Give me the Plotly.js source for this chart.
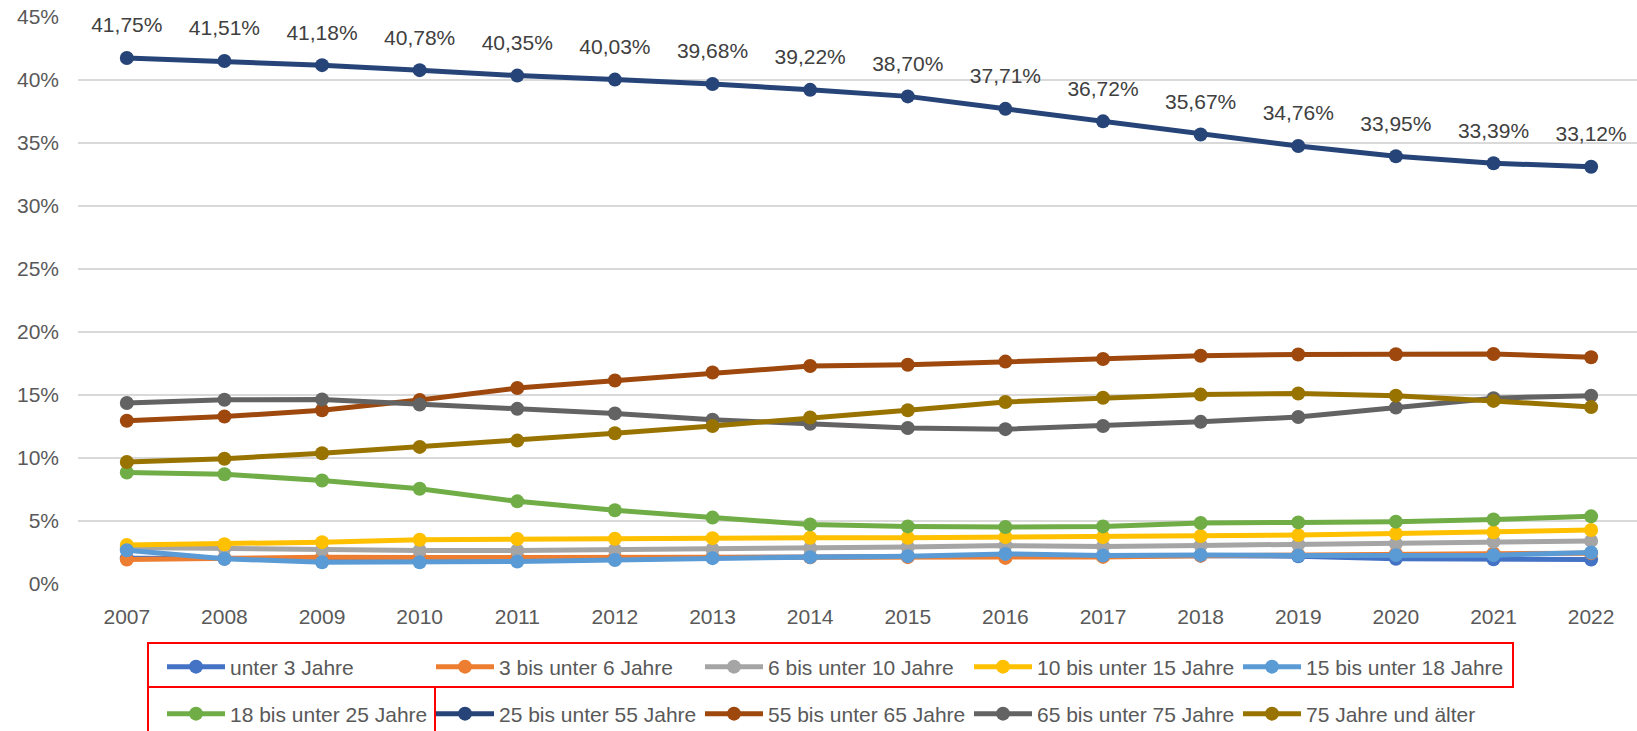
<!DOCTYPE html>
<html>
<head>
<meta charset="utf-8">
<script src="https://cdn.plot.ly/plotly-3.0.1.min.js"></script>
<style>
html,body{margin:0;padding:0;background:#fff;}
#chart{width:1637px;height:731px;}
</style>
</head>
<body>
<div id="chart"></div>
<script>
// ---- data (values in percent) ----
const years = ['2007','2008','2009','2010','2011','2012','2013','2014','2015','2016','2017','2018','2019','2020','2021','2022'];
const seriesNames = ['unter 3 Jahre','3 bis unter 6 Jahre','6 bis unter 10 Jahre','10 bis unter 15 Jahre','15 bis unter 18 Jahre',
                     '18 bis unter 25 Jahre','25 bis unter 55 Jahre','55 bis unter 65 Jahre','65 bis unter 75 Jahre','75 Jahre und älter'];
const unter3   = [2.05, 2.00, 2.00, 2.00, 2.00, 2.05, 2.10, 2.15, 2.20, 2.25, 2.25, 2.25, 2.20, 2.00, 1.97, 1.95];
const bis6     = [1.95, 2.05, 2.13, 2.10, 2.13, 2.13, 2.12, 2.12, 2.13, 2.07, 2.15, 2.25, 2.32, 2.40, 2.42, 2.45];
const bis10    = [2.90, 2.82, 2.72, 2.66, 2.66, 2.71, 2.77, 2.85, 2.93, 3.05, 2.98, 3.06, 3.14, 3.20, 3.35, 3.42];
const bis15    = [3.10, 3.16, 3.32, 3.51, 3.57, 3.59, 3.64, 3.67, 3.67, 3.72, 3.72, 3.80, 3.88, 4.00, 4.10, 4.28];
const bis18    = [2.68, 2.00, 1.73, 1.73, 1.78, 1.91, 2.05, 2.13, 2.21, 2.39, 2.26, 2.31, 2.26, 2.29, 2.29, 2.50];
const bis25    = [8.85, 8.71, 8.22, 7.56, 6.56, 5.85, 5.27, 4.73, 4.57, 4.52, 4.57, 4.84, 4.89, 4.95, 5.12, 5.37];
const bis55    = [41.75, 41.51, 41.18, 40.78, 40.35, 40.03, 39.68, 39.22, 38.70, 37.71, 36.72, 35.67, 34.76, 33.95, 33.39, 33.12];
const bis65    = [12.96, 13.29, 13.79, 14.60, 15.55, 16.15, 16.78, 17.30, 17.40, 17.65, 17.86, 18.11, 18.22, 18.24, 18.25, 18.00];
const bis75    = [14.37, 14.62, 14.65, 14.25, 13.90, 13.54, 13.04, 12.71, 12.38, 12.29, 12.54, 12.87, 13.25, 14.00, 14.75, 14.95];
const ab75     = [9.68, 9.94, 10.38, 10.88, 11.38, 11.96, 12.54, 13.21, 13.79, 14.45, 14.78, 15.03, 15.12, 14.95, 14.53, 14.04];
const colors   = ['#4472C4','#ED7D31','#A5A5A5','#FFC000','#5B9BD5','#70AD47','#264478','#9E480E','#636363','#997300'];
const yTicks   = [0,5,10,15,20,25,30,35,40,45];

const allSeries = [unter3, bis6, bis10, bis15, bis18, bis25, bis55, bis65, bis75, ab75];

const FONT = 'Liberation Sans, Arial, sans-serif';

const traces = allSeries.map((vals, i) => ({
  type: 'scatter',
  mode: 'lines+markers',
  name: seriesNames[i],
  x: years,
  y: vals,
  line: {color: colors[i], width: 5},
  marker: {color: colors[i], size: 14},
  legend: i < 5 ? 'legend' : 'legend2',
  hoverinfo: 'skip'
}));

// data labels for the 25–55 series (invisible large marker pushes the text up)
const fmt = v => v.toFixed(2).replace('.', ',') + '%';
traces.push({
  type: 'scatter',
  mode: 'markers+text',
  x: years,
  y: bis55,
  text: bis55.map(fmt),
  textposition: 'top center',
  textfont: {family: FONT, size: 21, color: '#404040'},
  marker: {size: 31, opacity: 0, color: '#264478'},
  showlegend: false,
  hoverinfo: 'skip'
});

// plot area in pixels: left 78, right 1637, top 17, bottom 584
const px = x => (x - 78) / 1559;
const py = y => (584 - y) / 567;

const legendCommon = {
  orientation: 'h', xanchor: 'left', yanchor: 'middle',
  bgcolor: 'rgba(0,0,0,0)', borderwidth: 0,
  font: {family: FONT, size: 21, color: '#595959'},
  itemwidth: 58,
  entrywidth: 196, entrywidthmode: 'pixels', traceorder: 'normal'
};

const layout = {
  width: 1637, height: 731,
  margin: {l: 78, r: 0, t: 17, b: 147, autoexpand: false},
  paper_bgcolor: '#ffffff', plot_bgcolor: '#ffffff',
  font: {family: FONT, size: 21, color: '#595959'},
  separators: ',.',
  showlegend: true,
  xaxis: {
    type: 'category', range: [-0.5, 15.47], showgrid: false, zeroline: false,
    showline: false, ticks: '', ticklabelstandoff: 18, automargin: false,
    tickfont: {family: FONT, size: 21, color: '#595959'}
  },
  yaxis: {
    range: [0, 45], tickvals: yTicks, ticktext: yTicks.map(v => v + '%'),
    showgrid: true, gridcolor: '#D9D9D9', gridwidth: 1.5, zeroline: false,
    showline: false, ticks: '', ticklabelstandoff: 18, automargin: false,
    tickfont: {family: FONT, size: 21, color: '#595959'}
  },
  legend: Object.assign({}, legendCommon, {x: px(162), y: py(667)}),
  legend2: Object.assign({}, legendCommon, {x: px(162), y: py(714)}),
  shapes: [
    {type: 'rect', xref: 'paper', yref: 'paper', x0: px(148), x1: px(1513), y0: py(687), y1: py(643),
     line: {color: '#FF0000', width: 2}, fillcolor: 'rgba(0,0,0,0)'},
    {type: 'rect', xref: 'paper', yref: 'paper', x0: px(148), x1: px(435), y0: py(740), y1: py(687),
     line: {color: '#FF0000', width: 2}, fillcolor: 'rgba(0,0,0,0)'}
  ]
};

Plotly.newPlot('chart', traces, layout, {staticPlot: true, displayModeBar: false});
</script>
</body>
</html>
